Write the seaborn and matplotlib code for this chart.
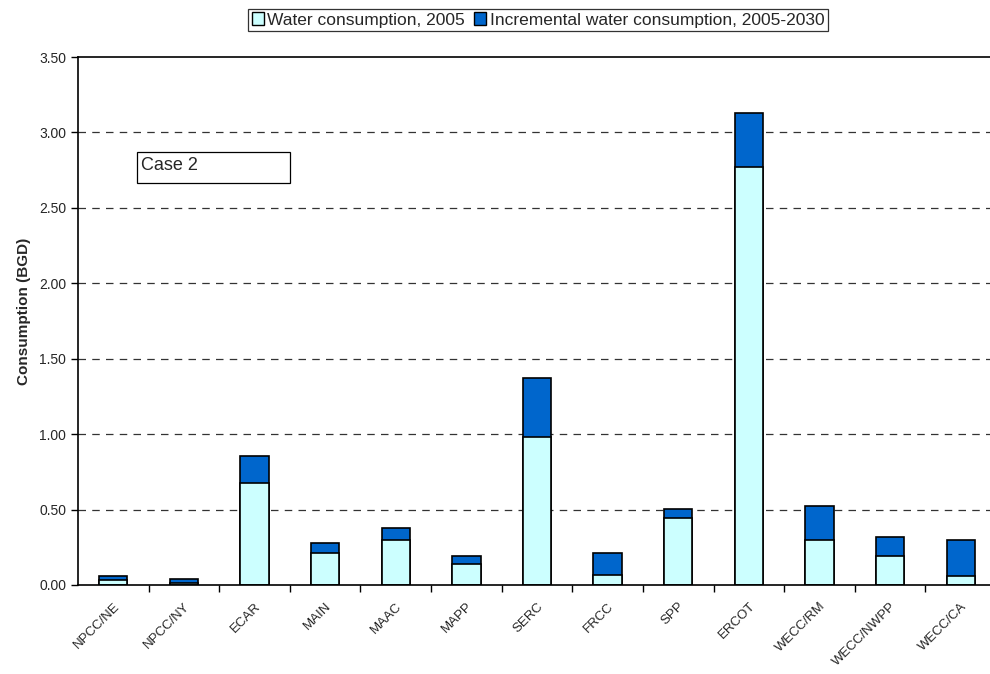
import numpy as np
import pandas as pd
import matplotlib
matplotlib.use('Agg')
import matplotlib.pyplot as plt
import matplotlib.transforms as mtransforms
from matplotlib.patches import Patch, Rectangle
import seaborn as sns

# Dữ liệu
regions = ['NPCC/NE', 'NPCC/NY', 'ECAR', 'MAIN', 'MAAC', 'MAPP', 'SERC',
           'FRCC', 'SPP', 'ERCOT', 'WECC/RM', 'WECC/NWPP', 'WECC/CA']
base_2005 = [0.033, 0.014, 0.674, 0.213, 0.295, 0.142, 0.983,
             0.068, 0.445, 2.768, 0.300, 0.193, 0.062]
incremental = [0.029, 0.026, 0.181, 0.067, 0.085, 0.053, 0.387,
               0.145, 0.057, 0.358, 0.225, 0.127, 0.238]

df = pd.DataFrame({'region': regions, 'base': base_2005, 'incr': incremental})
df['total'] = df['base'] + df['incr']

sns.set_style('white')
plt.rcParams['font.family'] = ['Liberation Sans', 'DejaVu Sans']

fig = plt.figure(figsize=(9.9, 6.74), dpi=100)
# trục kéo dài ra ngoài mép phải như hình gốc
ax = fig.add_axes([78 / 990, (674 - 585) / 674, 918 / 990, 528 / 674])

light = '#CCFFFF'
dark = '#0066CC'

sns.barplot(data=df, x='region', y='total', color=dark, width=0.4,
            edgecolor='black', linewidth=1.2, saturation=1, ax=ax)
sns.barplot(data=df, x='region', y='base', color=light, width=0.4,
            edgecolor='black', linewidth=1.2, saturation=1, ax=ax)

ax.set_xlim(-0.5, len(regions) - 0.5)
ax.set_ylim(0, 3.5)
yt = np.arange(0, 3.51, 0.5)
ax.set_yticks(yt)
ax.set_yticklabels([f'{v:.2f}' for v in yt], fontsize=10)
for v in np.arange(0.5, 3.01, 0.5):
    ax.axhline(v, color='#333333', linestyle=(0, (6, 5)), linewidth=0.9, zorder=0)

# nhãn ở giữa cột, vạch chia giữa các cột
ax.set_xticks(np.arange(len(regions)))
ax.set_xticklabels(regions, rotation=45, ha='right', rotation_mode='anchor', fontsize=9.5)
offset = mtransforms.ScaledTranslation(-0.15, 0, fig.dpi_scale_trans)
for lab in ax.get_xticklabels():
    lab.set_transform(lab.get_transform() + offset)
ax.set_xticks(np.arange(0.5, len(regions) - 0.5, 1), minor=True)
ax.tick_params(axis='x', which='major', length=0, pad=11)
ax.tick_params(axis='x', which='minor', length=5, width=1, color='black', direction='out', bottom=True)
ax.tick_params(axis='y', length=5, width=1, color='black', direction='out', left=True)

ax.set_xlabel('')
ax.set_ylabel('Consumption (BGD)', fontsize=11, fontweight='bold')
ax.yaxis.set_label_coords(-47 / 918, (585 - 311) / 528)

for side in ['left', 'bottom', 'top']:
    ax.spines[side].set_visible(True)
    ax.spines[side].set_color('black')
    ax.spines[side].set_linewidth(1.2)
ax.spines['right'].set_visible(False)

# ô "Case 2"
fig.patches.append(Rectangle((137 / 990, (674 - 183) / 674), 153 / 990, 31 / 674,
                             transform=fig.transFigure, facecolor='white',
                             edgecolor='black', linewidth=0.9))
fig.text(141 / 990, 1 - 166 / 674, 'Case 2', fontsize=13, ha='left', va='center')

handles = [Patch(facecolor=light, edgecolor='black', label='Water consumption, 2005'),
           Patch(facecolor=dark, edgecolor='black', label='Incremental water consumption, 2005-2030')]
leg = fig.legend(handles=handles, loc='center', bbox_to_anchor=(538 / 990, 1 - 20 / 674), ncol=2,
                 fontsize=12.5, frameon=True, fancybox=False, edgecolor='black',
                 handlelength=0.7, handleheight=0.7, handletextpad=0.2, columnspacing=0.5,
                 borderpad=0.2, borderaxespad=0)
leg.get_frame().set_linewidth(0.9)

fig.savefig('out.png', dpi=100)
